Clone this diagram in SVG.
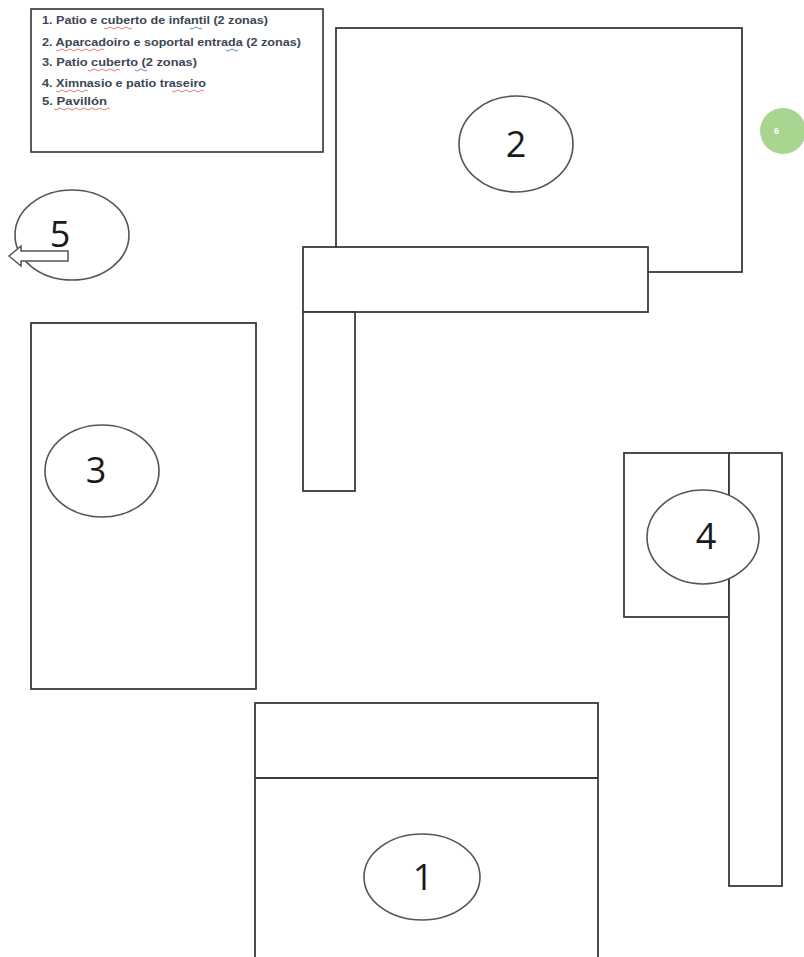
<svg xmlns="http://www.w3.org/2000/svg" width="804" height="957" viewBox="0 0 804 957">
<style>
.b{fill:#fff;stroke:#3a3a3a;stroke-width:1.8}
.e{fill:#fff;stroke:#555;stroke-width:1.6}
.n{font-family:"Open Sans","Liberation Sans",sans-serif;font-size:36px;fill:#1a1a1a;text-anchor:middle}
.l{font-family:"Liberation Sans",Arial,sans-serif;font-size:10.5px;font-weight:bold;fill:#3c4654}
.sq{fill:none;stroke:#e07060;stroke-width:0.9}
.sb{fill:none;stroke:#5a7fb0;stroke-width:0.9}
</style>
<rect width="804" height="957" fill="#fff"/>
<g id="legend">
<rect x="31" y="9" width="292" height="143" fill="#fff" stroke="#333" stroke-width="1.6"/>
<text class="l" x="42" y="24" textLength="226" lengthAdjust="spacingAndGlyphs">1. Patio e cuberto de infantil (2 zonas)</text>
<text class="l" x="42" y="46" textLength="259" lengthAdjust="spacingAndGlyphs">2. Aparcadoiro e soportal entrada (2 zonas)</text>
<text class="l" x="42" y="66" textLength="155" lengthAdjust="spacingAndGlyphs">3. Patio cuberto (2 zonas)</text>
<text class="l" x="42" y="87" textLength="164" lengthAdjust="spacingAndGlyphs">4. Ximnasio e patio traseiro</text>
<text class="l" x="42" y="105" textLength="65" lengthAdjust="spacingAndGlyphs">5. Pavillón</text>
<path class="sq" d="M104 28 q2 2 4 0 t4 0 t4 0 t4 0 t4 0 t4 0 t4 0"/>
<path class="sq" d="M56 50 q2 2 4 0 t4 0 t4 0 t4 0 t4 0 t4 0 t4 0 t4 0 t4 0 t4 0 t4 0 t4 0"/>
<path class="sq" d="M88 70 q2 2 4 0 t4 0 t4 0 t4 0 t4 0 t4 0 t4 0 t4 0"/>
<path class="sq" d="M56 91 q2 2 4 0 t4 0 t4 0 t4 0 t4 0 t4 0 t4 0 t4 0"/>
<path class="sq" d="M172 91 q2 2 4 0 t4 0 t4 0 t4 0 t4 0 t4 0 t4 0 t4 0"/>
<path class="sq" d="M54 109 q2 2 4 0 t4 0 t4 0 t4 0 t4 0 t4 0 t4 0 t4 0 t4 0 t4 0 t4 0 t4 0 t4 0 t4 0"/>
<path class="sb" d="M190 28 q2 2 4 0 t4 0 t4 0"/>
<path class="sb" d="M226 50 q2 2 4 0 t4 0 t4 0"/>
<path class="sb" d="M135 70 q2 2 4 0 t4 0 t4 0"/>
</g>
<g id="zone2">
<rect class="b" x="336" y="28" width="406" height="244"/>
<ellipse class="e" cx="516" cy="144" rx="57" ry="48"/>
<text class="n" x="516" y="157">2</text>
</g>
<g id="zone2-soportal">
<rect class="b" x="303" y="247" width="345" height="65"/>
<rect class="b" x="303" y="312" width="52" height="179"/>
</g>
<g id="zone5">
<ellipse class="e" cx="72" cy="235" rx="57" ry="45"/>
<text class="n" x="60" y="247">5</text>
<path d="M68 251 L21 251 L21 246 L9 256 L21 266 L21 261 L68 261 Z" fill="#fff" stroke="#555" stroke-width="1.5"/>
</g>
<g id="zone6">
<circle cx="783" cy="131" r="23" fill="#a8d590"/>
<text x="774" y="134" font-family="Liberation Sans,Arial,sans-serif" font-size="9" font-weight="bold" fill="#fff">6</text>
</g>
<g id="zone3">
<rect class="b" x="31" y="323" width="225" height="366"/>
<ellipse class="e" cx="102" cy="471" rx="57" ry="46"/>
<text class="n" x="96" y="483">3</text>
</g>
<g id="zone4">
<rect class="b" x="624" y="453" width="105" height="164"/>
<rect class="b" x="729" y="453" width="53" height="433"/>
<ellipse class="e" cx="703" cy="537" rx="56" ry="47"/>
<text class="n" x="706" y="549" font-family="Liberation Sans,Arial,sans-serif">4</text>
</g>
<g id="zone1">
<rect class="b" x="255" y="703" width="343" height="264"/>
<line x1="255" y1="778" x2="598" y2="778" stroke="#3a3a3a" stroke-width="1.8"/>
<ellipse class="e" cx="422" cy="877" rx="58" ry="43"/>
<text class="n" x="423" y="890">1</text>
</g>
<g id="connectors"></g>
</svg>
